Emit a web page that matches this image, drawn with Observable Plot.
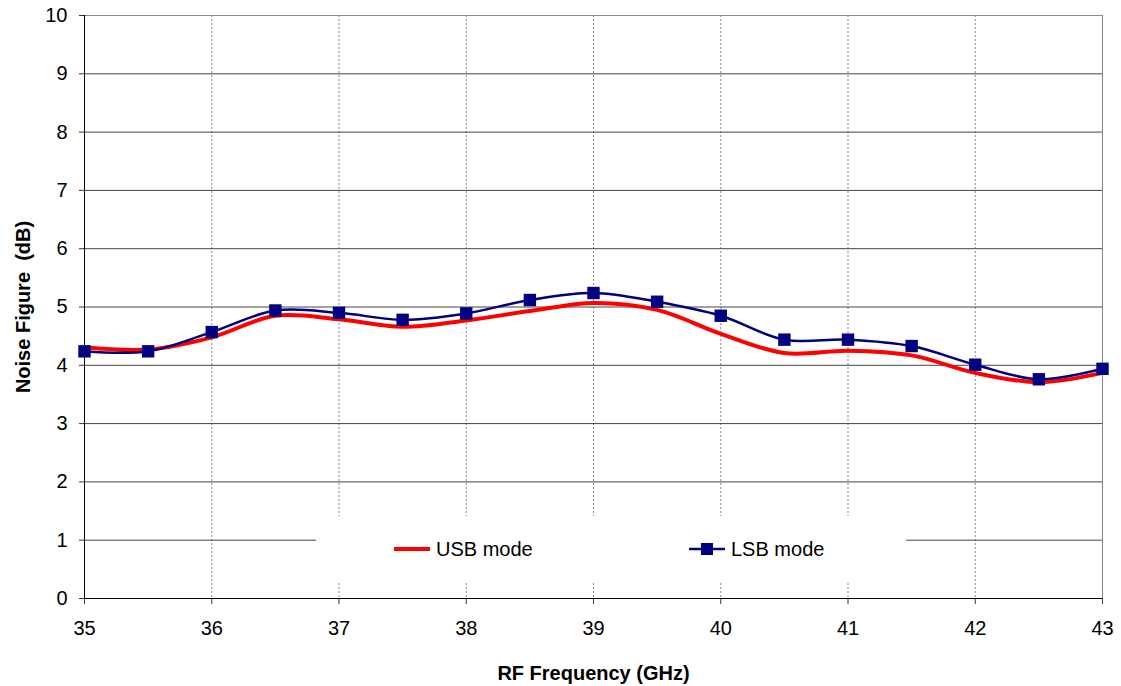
<!DOCTYPE html>
<html>
<head>
<meta charset="utf-8">
<script src="https://cdn.jsdelivr.net/npm/d3@7"></script>
<script src="https://cdn.jsdelivr.net/npm/@observablehq/plot@0.6"></script>
<style>
  body { margin: 0; background: #fff; font-family: "Liberation Sans", Arial, sans-serif; }
  #wrap { position: relative; width: 1121px; height: 686px; }
  #legend { position: absolute; left: 316px; top: 516px; width: 590px; height: 66px; background: #fff; }
  .item { position: absolute; top: 0; height: 66px; display: flex; align-items: center; font-size: 20px; color: #000; }
</style>
</head>
<body>
<div id="wrap"><div id="legend"></div></div>
<script>
// frecuencias RF (GHz)
const freq = [35, 35.5, 36, 36.5, 37, 37.5, 38, 38.5, 39, 39.5, 40, 40.5, 41, 41.5, 42, 42.5, 43]
// figura de ruido (dB)
const usb = [4.31, 4.27, 4.48, 4.85, 4.79, 4.66, 4.77, 4.93, 5.07, 4.95, 4.54, 4.21, 4.25, 4.17, 3.87, 3.71, 3.87]
const lsb = [4.24, 4.24, 4.57, 4.94, 4.90, 4.78, 4.89, 5.12, 5.24, 5.09, 4.85, 4.44, 4.44, 4.33, 4.01, 3.76, 3.94]
const xTicks = [35, 36, 37, 38, 39, 40, 41, 42, 43]
const yTicks = [0, 1, 2, 3, 4, 5, 6, 7, 8, 9, 10]
const series = [
  {name: 'USB mode', color: '#ff0000', values: usb},
  {name: 'LSB mode', color: '#000080', values: lsb},
]

const datos = series.flatMap(s => freq.map((f, i) => ({serie: s.name, f: f, nf: s.values[i]})))
const usbData = datos.filter(d => d.serie === 'USB mode')
const lsbData = datos.filter(d => d.serie === 'LSB mode')

let chart = Plot.plot({
  width: 1121,
  height: 686,
  marginLeft: 84,
  marginRight: 19,
  marginTop: 15,
  marginBottom: 88,
  style: {fontFamily: '"Liberation Sans", Arial, sans-serif', fontSize: '20px', background: 'white', color: '#000'},
  x: {domain: [35, 43]},
  y: {domain: [0, 10]},
  marks: [
    Plot.gridX(xTicks, {stroke: '#888', strokeOpacity: 1, strokeDasharray: '2,2'}),
    Plot.gridY(yTicks, {stroke: '#444', strokeOpacity: 1}),
    Plot.ruleY([10], {stroke: '#888'}),
    Plot.ruleX([43], {stroke: '#888'}),
    Plot.axisX(xTicks, {tickSize: 6, tickPadding: 16, stroke: '#333', tickFormat: d => d, label: null}),
    Plot.axisY(yTicks, {tickSize: 5, tickPadding: 12, stroke: '#333', tickFormat: d => d, label: null}),
    Plot.text(['RF Frequency (GHz)'], {frameAnchor: 'bottom', dy: 75, lineAnchor: 'middle', fontWeight: 'bold', fontSize: 20}),
    Plot.text(['Noise Figure  (dB)'], {frameAnchor: 'left', dx: -61, rotate: -90, textAnchor: 'middle', lineAnchor: 'middle', fontWeight: 'bold', fontSize: 20}),
    Plot.ruleX([35], {stroke: '#000'}),
    Plot.ruleY([0], {stroke: '#000'}),
    Plot.line(usbData, {x: 'f', y: 'nf', stroke: '#ff0000', strokeWidth: 4, curve: 'catmull-rom'}),
    Plot.line(lsbData, {x: 'f', y: 'nf', stroke: '#000080', strokeWidth: 2.5, curve: 'catmull-rom'}),
    Plot.dot(lsbData, {x: 'f', y: 'nf', symbol: 'square', fill: '#000080', r: 7}),
  ],
})

d3.select('#wrap').insert(() => chart, '#legend')
d3.select(chart).style('position', 'absolute').style('left', '0px').style('top', '0px')
d3.select(chart).selectAll('text').attr('xml:space', 'preserve')

// leyenda
const leg = d3.select('#legend')
const pos = [78, 373]
series.forEach((s, i) => {
  const it = leg.append('div').attr('class', 'item').style('left', pos[i] + 'px')
  const sw = it.append('svg').attr('width', 36).attr('height', 14).style('margin-right', '6px')
  sw.append('line').attr('x1', 0).attr('x2', 36).attr('y1', 7).attr('y2', 7)
    .attr('stroke', s.color).attr('stroke-width', i === 0 ? 4 : 2.5)
  if (i === 1) sw.append('rect').attr('x', 12).attr('y', 1).attr('width', 12).attr('height', 12).attr('fill', s.color)
  it.append('span').text(s.name)
})
</script>
</body>
</html>
